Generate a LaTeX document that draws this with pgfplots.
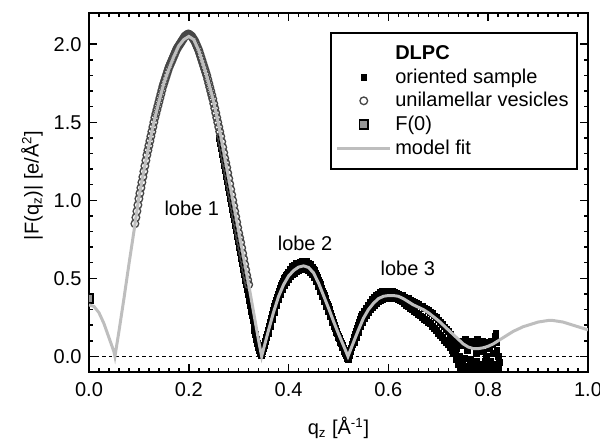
\documentclass[border=0pt]{standalone}
\usepackage{fontspec}
\setmainfont{Liberation Sans}
\usepackage{pgfplots}
\pgfplotsset{compat=1.18}
\definecolor{fitgray}{RGB}{190,190,190}
\definecolor{circgray}{RGB}{70,70,70}
\definecolor{fzero}{RGB}{150,150,150}
\newcommand{\fs}{\fontsize{12}{14.4}\selectfont}
\begin{document}
\begin{tikzpicture}
\useasboundingbox (-53.4pt,-40.2pt) rectangle (306.6pt,223.2pt);
\begin{axis}[
  at={(0,0)}, anchor=south west,
  scale only axis, width=299.4pt, height=215.4pt,
  xmin=0, xmax=1, ymin=-0.1, ymax=2.2,
  clip marker paths=true,
  xtick={0,0.2,0.4,0.6,0.8,1.0}, ytick={0,0.5,1.0,1.5,2.0},
  minor x tick num=9, minor y tick num=4,
  tick align=inside,
  major tick length=4.8pt, minor tick length=2.4pt,
  every tick/.style={black, line width=0.9pt},
  axis line style={line width=1.2pt},
  /pgf/number format/assume math mode=true,
  tick label style={font=\fs},
  x tick label style={/pgf/number format/fixed, /pgf/number format/fixed zerofill, /pgf/number format/precision=1, yshift=-2.5pt},
  y tick label style={/pgf/number format/fixed, /pgf/number format/fixed zerofill, /pgf/number format/precision=1, xshift=-1pt},
  label style={font=\fs},
  xlabel={q\textsubscript{z} [Å\textsuperscript{-1}]},
  ylabel={|F(q\textsubscript{z})| [e/Å\textsuperscript{2}]},
  xlabel style={at={(axis description cs:0.5,-0.156)}, anchor=center},
  ylabel style={at={(axis description cs:-0.114,0.52)}, anchor=center},
  legend style={at={(axis description cs:0.98,0.947)}, anchor=north east, draw=black, line width=1.2pt, font=\fs, row sep=0pt, inner xsep=3pt, inner ysep=5.5pt},
  legend cell align=left,
  legend image code/.code={\draw[mark repeat=2,mark phase=2,#1] plot coordinates {(0pt,0pt) (16pt,0pt) (32pt,0pt)};},
]
\addlegendimage{empty legend}
\addlegendentry{\textbf{DLPC}}

\addplot[black, line width=0.8pt, dash pattern=on 2pt off 2pt, forget plot] coordinates {(0,0) (1,0)};

% oriented sample (upper edge of the band)
\addplot[only marks, mark=square*, mark size=1.75pt, mark options={draw=black, fill=black, line width=0.3pt}] coordinates {
(0.260,1.40) (0.262,1.365) (0.264,1.33) (0.266,1.295) (0.268,1.26) (0.270,1.225) (0.272,1.19) (0.274,1.155)
(0.276,1.12) (0.278,1.085) (0.280,1.05) (0.282,1.015) (0.284,0.98) (0.286,0.945) (0.288,0.91) (0.290,0.875)
(0.292,0.84) (0.294,0.805) (0.296,0.77) (0.298,0.735) (0.300,0.70) (0.302,0.665) (0.304,0.63) (0.306,0.595)
(0.308,0.56) (0.310,0.525) (0.312,0.49) (0.314,0.46) (0.316,0.43) (0.318,0.395) (0.320,0.36) (0.322,0.325)
(0.324,0.29) (0.326,0.26) (0.328,0.23) (0.330,0.20) (0.332,0.17) (0.334,0.14) (0.336,0.11) (0.338,0.085)
(0.340,0.06) (0.342,0.04) (0.344,0.02) (0.346,0.01) (0.348,0.03) (0.350,0.05) (0.352,0.07) (0.354,0.095)
(0.356,0.12) (0.358,0.145) (0.360,0.17) (0.362,0.195) (0.364,0.22) (0.366,0.245) (0.368,0.27) (0.370,0.295)
(0.372,0.32) (0.374,0.34) (0.376,0.36) (0.378,0.38) (0.380,0.40) (0.382,0.42) (0.384,0.44) (0.386,0.455)
(0.388,0.47) (0.390,0.485) (0.392,0.50) (0.394,0.51) (0.396,0.52) (0.398,0.53)
(0.400,0.54) (0.404,0.56) (0.408,0.575) (0.412,0.585) (0.416,0.595)
(0.420,0.60) (0.424,0.605) (0.428,0.61) (0.432,0.61) (0.436,0.61) (0.440,0.60) (0.444,0.59) (0.448,0.57)
(0.450,0.56) (0.452,0.55) (0.454,0.535) (0.456,0.52) (0.458,0.505) (0.460,0.49) (0.462,0.475) (0.464,0.46)
(0.466,0.44) (0.468,0.42) (0.470,0.405) (0.472,0.39) (0.474,0.37) (0.476,0.35) (0.478,0.335) (0.480,0.32)
(0.482,0.30) (0.484,0.28) (0.486,0.26) (0.488,0.24) (0.490,0.22) (0.492,0.20) (0.494,0.18) (0.496,0.16)
(0.498,0.145) (0.500,0.13) (0.502,0.115) (0.504,0.10) (0.506,0.085) (0.508,0.07) (0.510,0.055) (0.512,0.04)
(0.514,0.025) (0.516,0.01) (0.518,-0.01) (0.520,-0.02) (0.522,0.005) (0.524,0.03) (0.526,0.055) (0.528,0.08)
(0.530,0.10) (0.532,0.12) (0.534,0.14) (0.536,0.16) (0.538,0.18) (0.540,0.20) (0.542,0.22) (0.544,0.24)
(0.546,0.255) (0.548,0.27) (0.552,0.29) (0.556,0.31) (0.560,0.33) (0.564,0.35) (0.568,0.365) (0.572,0.38)
(0.576,0.39) (0.580,0.40) (0.584,0.41) (0.588,0.415) (0.592,0.42) (0.596,0.42) (0.600,0.42) (0.604,0.42)
(0.608,0.415) (0.612,0.41) (0.616,0.405) (0.620,0.40) (0.624,0.395) (0.628,0.39) (0.632,0.38) (0.636,0.375)
(0.640,0.37) (0.644,0.36) (0.648,0.355) (0.652,0.345) (0.656,0.34) (0.660,0.335) (0.664,0.325) (0.668,0.32)
(0.672,0.31) (0.676,0.305) (0.680,0.295) (0.684,0.285) (0.688,0.275) (0.692,0.26) (0.696,0.25) (0.700,0.235)
(0.704,0.22) (0.708,0.205) (0.712,0.19) (0.716,0.175) (0.720,0.16) (0.724,0.14) (0.726,0.12) (0.728,0.10)
(0.730,0.02) (0.732,0.06) (0.734,0.02) (0.736,-0.02) (0.737,0.05) (0.738,0.08) (0.740,-0.05) (0.741,0.09)
(0.742,0.00) (0.744,-0.08) (0.745,-0.04) (0.746,0.10) (0.748,-0.03) (0.749,0.09) (0.750,0.07) (0.752,-0.07)
(0.753,-0.01) (0.754,0.11) (0.756,-0.09) (0.757,0.08) (0.758,0.04) (0.760,-0.06) (0.761,-0.09) (0.762,0.09)
(0.764,-0.02) (0.765,0.08) (0.766,-0.08) (0.768,0.10) (0.769,-0.06) (0.770,-0.04) (0.772,0.08) (0.773,0.10)
(0.774,-0.07) (0.776,0.02) (0.777,-0.03) (0.778,0.11) (0.780,-0.09) (0.781,0.09) (0.782,0.06) (0.784,-0.05)
(0.785,-0.09) (0.786,0.10) (0.788,-0.08) (0.789,0.10) (0.790,0.03) (0.792,0.09) (0.793,-0.03) (0.794,-0.06)
(0.796,0.00) (0.797,-0.08) (0.798,0.08) (0.800,-0.09) (0.801,0.09) (0.802,0.05) (0.804,-0.03) (0.805,-0.06)
(0.806,0.10) (0.808,-0.07) (0.809,0.08) (0.810,0.02) (0.811,0.10) (0.812,-0.05) (0.813,-0.09) (0.814,0.13)
(0.815,0.15) (0.816,0.09) (0.817,0.04) (0.818,-0.08) (0.820,0.00) (0.821,-0.08) (0.822,-0.04)
};
\addlegendentry{oriented sample}

% oriented sample (lower edge of the band)
\addplot[only marks, mark=square*, mark size=1.75pt, mark options={draw=black, fill=black, line width=0.3pt}, forget plot] coordinates {
(0.360,0.15) (0.364,0.195) (0.368,0.24) (0.372,0.285) (0.376,0.325) (0.380,0.365) (0.384,0.40) (0.388,0.43)
(0.392,0.455) (0.396,0.475) (0.400,0.495) (0.404,0.51) (0.408,0.525) (0.412,0.535) (0.416,0.545) (0.420,0.552)
(0.424,0.556) (0.428,0.558) (0.432,0.558) (0.436,0.555) (0.440,0.55) (0.444,0.54) (0.448,0.525) (0.452,0.505)
(0.456,0.48) (0.460,0.45) (0.464,0.42) (0.468,0.385) (0.472,0.355) (0.476,0.32) (0.480,0.29) (0.484,0.255)
(0.488,0.22) (0.492,0.19) (0.496,0.155) (0.500,0.125) (0.504,0.09) (0.508,0.06) (0.512,0.03)
(0.532,0.09) (0.536,0.12) (0.540,0.155) (0.544,0.19) (0.548,0.22) (0.552,0.245) (0.556,0.265) (0.560,0.285)
(0.564,0.30) (0.568,0.315) (0.572,0.33) (0.576,0.34) (0.580,0.35) (0.584,0.36) (0.588,0.365) (0.592,0.37)
(0.596,0.375) (0.600,0.375) (0.604,0.375) (0.608,0.375) (0.612,0.375) (0.616,0.37) (0.620,0.365) (0.624,0.36)
(0.628,0.35) (0.632,0.34) (0.636,0.33) (0.640,0.32) (0.644,0.31) (0.648,0.30) (0.652,0.29) (0.656,0.28)
(0.660,0.27) (0.664,0.26) (0.668,0.25) (0.672,0.24) (0.676,0.23) (0.680,0.22) (0.684,0.21) (0.688,0.195)
(0.692,0.18) (0.696,0.165) (0.700,0.15) (0.704,0.135) (0.708,0.12) (0.712,0.105) (0.716,0.09) (0.720,0.075)
(0.724,0.06) (0.728,0.04) (0.732,0.02)
};

% unilamellar vesicles
\addplot[only marks, mark=o, mark size=2.3pt, mark options={draw=circgray, line width=0.8pt}] coordinates {
(0.092,0.85) (0.094,0.89) (0.096,0.93) (0.098,0.97) (0.100,1.01) (0.102,1.045) (0.104,1.08) (0.106,1.115)
(0.108,1.15) (0.110,1.185) (0.112,1.22) (0.114,1.255) (0.116,1.29) (0.118,1.32) (0.120,1.35) (0.122,1.38)
(0.124,1.41) (0.126,1.44) (0.128,1.47) (0.130,1.50) (0.132,1.53) (0.134,1.555) (0.136,1.58) (0.138,1.605)
(0.140,1.63) (0.142,1.655) (0.144,1.68) (0.146,1.705) (0.148,1.73) (0.150,1.75) (0.152,1.77) (0.154,1.79)
(0.156,1.81) (0.158,1.83) (0.160,1.85) (0.162,1.865) (0.164,1.88) (0.166,1.895) (0.168,1.91) (0.170,1.925)
(0.172,1.94) (0.174,1.955) (0.176,1.97) (0.178,1.98) (0.180,1.99) (0.182,2.00) (0.184,2.01) (0.186,2.02)
(0.188,2.03) (0.190,2.04) (0.192,2.05) (0.194,2.055) (0.196,2.06) (0.198,2.065) (0.200,2.065) (0.202,2.06)
(0.204,2.055) (0.206,2.05) (0.208,2.04) (0.210,2.03) (0.212,2.02) (0.214,2.005) (0.216,1.99) (0.218,1.975)
(0.220,1.96) (0.222,1.94) (0.224,1.92) (0.226,1.90) (0.228,1.88) (0.230,1.86) (0.232,1.84) (0.234,1.82)
(0.236,1.80) (0.238,1.775) (0.240,1.75) (0.242,1.725) (0.244,1.70) (0.246,1.675) (0.248,1.65) (0.250,1.62)
(0.252,1.59) (0.254,1.56) (0.256,1.53) (0.258,1.50) (0.260,1.47) (0.262,1.44) (0.264,1.41) (0.266,1.375)
(0.268,1.34) (0.270,1.305) (0.272,1.27) (0.274,1.24) (0.276,1.21) (0.278,1.175) (0.280,1.14) (0.282,1.105)
(0.284,1.07) (0.286,1.035) (0.288,1.00) (0.290,0.965) (0.292,0.93) (0.294,0.895) (0.296,0.86) (0.298,0.825)
(0.300,0.79) (0.302,0.76) (0.304,0.73) (0.306,0.695) (0.308,0.66) (0.310,0.625) (0.312,0.59) (0.314,0.555)
(0.316,0.52) (0.318,0.49) (0.320,0.46)
};
\addlegendentry{unilamellar vesicles}

% F(0)
\addplot[only marks, mark=square*, mark size=2.6pt, mark options={draw=black, fill=fzero, line width=1pt}] coordinates {(0,0.37)};
\addlegendentry{F(0)}

% model fit
\addplot[fitgray, line width=1.8pt, no marks] coordinates {
(0.00,0.33) (0.01,0.32) (0.02,0.28) (0.03,0.21) (0.04,0.12) (0.05,0.03) (0.052,0)
(0.06,0.16) (0.07,0.37) (0.08,0.59) (0.09,0.80) (0.10,1.02) (0.11,1.19) (0.12,1.35) (0.13,1.50)
(0.14,1.63) (0.15,1.75) (0.16,1.84) (0.17,1.92) (0.18,1.99) (0.19,2.03) (0.20,2.05) (0.21,2.03)
(0.22,1.96) (0.23,1.86) (0.24,1.75) (0.25,1.63) (0.26,1.48) (0.27,1.31) (0.28,1.14) (0.29,0.97)
(0.30,0.80) (0.31,0.63) (0.32,0.46) (0.33,0.28) (0.34,0.10) (0.346,0)
(0.35,0.05) (0.36,0.17) (0.37,0.285) (0.38,0.385) (0.39,0.46) (0.40,0.515) (0.41,0.55) (0.42,0.572)
(0.43,0.58) (0.44,0.57) (0.45,0.535) (0.46,0.47) (0.47,0.39) (0.48,0.31) (0.49,0.225) (0.50,0.145)
(0.51,0.07) (0.519,0)
(0.53,0.09) (0.54,0.17) (0.55,0.245) (0.56,0.30) (0.57,0.34) (0.58,0.37) (0.59,0.385) (0.60,0.39)
(0.61,0.39) (0.62,0.385) (0.63,0.37) (0.64,0.35) (0.65,0.33) (0.66,0.315) (0.67,0.30) (0.68,0.28)
(0.69,0.255) (0.70,0.23) (0.71,0.20) (0.72,0.17) (0.73,0.14) (0.74,0.11) (0.75,0.08) (0.76,0.06)
(0.77,0.05) (0.78,0.05) (0.79,0.055) (0.80,0.065) (0.81,0.08) (0.82,0.10) (0.83,0.12) (0.84,0.14)
(0.85,0.16) (0.86,0.175) (0.87,0.19) (0.88,0.20) (0.89,0.21) (0.90,0.22) (0.91,0.225) (0.92,0.23)
(0.93,0.23) (0.94,0.225) (0.95,0.22) (0.96,0.21) (0.97,0.20) (0.98,0.19) (0.99,0.18) (1.00,0.17)
};
\addlegendentry{model fit}

\node[font=\fs] at (axis cs:0.206,0.95) {lobe 1};
\node[font=\fs] at (axis cs:0.433,0.726) {lobe 2};
\node[font=\fs] at (axis cs:0.639,0.567) {lobe 3};
\end{axis}
\end{tikzpicture}
\end{document}
